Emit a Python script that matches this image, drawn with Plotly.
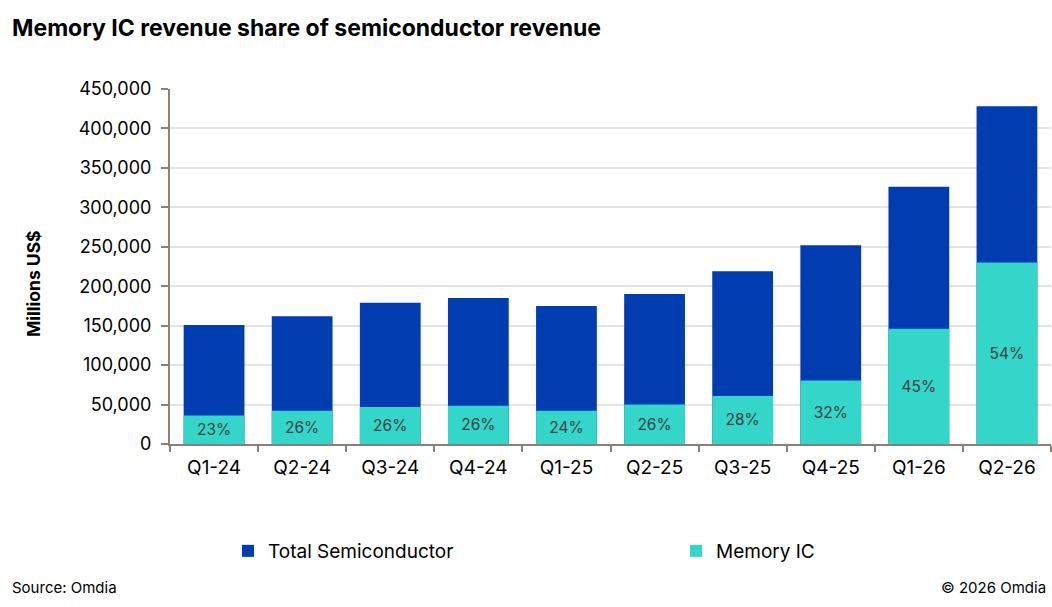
import plotly.graph_objects as go

# -----------------------------------------------------------
# Datos (millones US$)
# -----------------------------------------------------------
quarters = ["Q1-24", "Q2-24", "Q3-24", "Q4-24", "Q1-25",
            "Q2-25", "Q3-25", "Q4-25", "Q1-26", "Q2-26"]
total_semi = [151000, 162000, 179000, 185000, 175000,
              190000, 219000, 252000, 326000, 428000]
memory_ic = [36000, 42000, 47000, 48500, 42000,
             50000, 61000, 80500, 146000, 230000]
share_labels = ["23%", "26%", "26%", "26%", "24%",
                "26%", "28%", "32%", "45%", "54%"]

FONT = "Inter"
BLUE = "#013DB1"
TEAL = "#33D6C8"
AXIS = "#8C7F75"

fig = go.Figure()

fig.add_trace(go.Bar(
    x=quarters, y=total_semi, name="Total Semiconductor",
    marker=dict(color=BLUE, line=dict(width=0)),
    legend="legend",
))
fig.add_trace(go.Bar(
    x=quarters, y=memory_ic, name="Memory IC",
    marker=dict(color=TEAL, line=dict(width=0)),
    text=share_labels, textposition="inside", insidetextanchor="middle",
    textfont=dict(family=FONT, size=15.5, color="#404040"),
    constraintext="none",
    legend="legend2",
))

legend_font = dict(family=FONT, size=19, color="#000000")
ly = (444 - 551) / 355

fig.update_layout(
    width=1052, height=607,
    barmode="overlay", bargap=0.31,
    plot_bgcolor="white", paper_bgcolor="white",
    margin=dict(l=170, r=1, t=89, b=163),
    font=dict(family=FONT, color="#000000"),
    title=dict(text="<b>Memory IC revenue share of semiconductor revenue</b>",
               x=12 / 1052, xanchor="left", y=1 - 28 / 607, yanchor="middle",
               font=dict(family=FONT, size=23, color="#000000")),
    showlegend=True,
    legend=dict(orientation="h", x=(228 - 170) / 881, xanchor="left",
                y=ly, yanchor="middle", font=legend_font),
    legend2=dict(orientation="h", x=(676 - 170) / 881, xanchor="left",
                 y=ly, yanchor="middle", font=legend_font),
)

fig.update_yaxes(
    range=[0, 450000], dtick=50000, tickformat=",",
    showgrid=True, gridcolor="#E3E3E3", gridwidth=2,
    showline=True, linecolor=AXIS, linewidth=2,
    ticks="outside", ticklen=7, tickcolor=AXIS, tickwidth=2,
    ticklabelstandoff=6,
    tickfont=dict(family=FONT, size=18, color="#000000"),
    zeroline=False,
)
fig.update_xaxes(
    showline=True, linecolor=AXIS, linewidth=2,
    ticks="outside", tickson="boundaries", ticklen=6, tickcolor=AXIS, tickwidth=2,
    ticklabelstandoff=5,
    tickfont=dict(family=FONT, size=19, color="#000000"),
)

# título eje Y y notas
fig.add_annotation(text="<b>Millions US$</b>", textangle=-90,
                   xref="paper", yref="paper",
                   x=(33 - 170) / 881, xanchor="center",
                   y=(444 - 284) / 355, yanchor="middle",
                   showarrow=False, font=dict(family=FONT, size=17.5, color="#000000"))
fig.add_annotation(text="Source: Omdia", xref="paper", yref="paper",
                   x=(10 - 170) / 881, xanchor="left", y=(444 - 587) / 355, yanchor="middle",
                   showarrow=False, font=dict(family=FONT, size=15, color="#000000"))
fig.add_annotation(text="© 2026 Omdia", xref="paper", yref="paper",
                   x=(1048 - 170) / 881, xanchor="right", y=(444 - 587) / 355, yanchor="middle",
                   showarrow=False, font=dict(family=FONT, size=15, color="#000000"))

fig.write_html("out.html", config={"displayModeBar": False},
               post_script="document.body.style.margin='0px';")
